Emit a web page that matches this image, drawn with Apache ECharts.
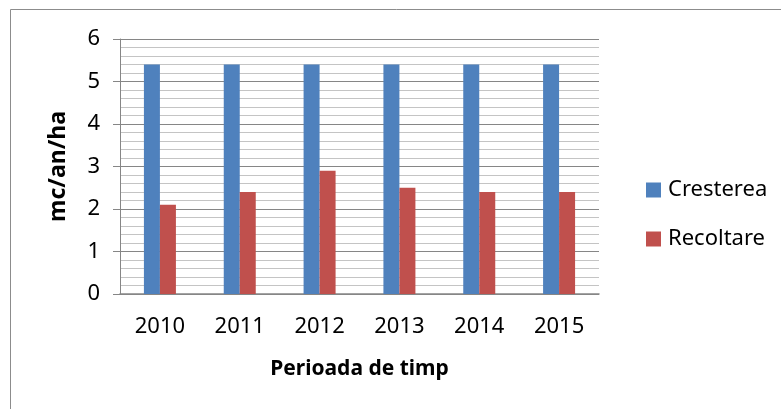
<!DOCTYPE html>
<html>
<head>
<meta charset="utf-8">
<script src="https://cdn.jsdelivr.net/npm/echarts@6/dist/echarts.min.js"></script>
<style>
html,body{margin:0;padding:0;background:#fff;}
#chart{width:781px;height:409px;}
</style>
</head>
<body>
<div id="chart"></div>
<script>
var categories = ['2010', '2011', '2012', '2013', '2014', '2015'];
var cresterea = [5.4, 5.4, 5.4, 5.4, 5.4, 5.4];
var recoltare = [2.1, 2.4, 2.9, 2.5, 2.4, 2.4];
var seriesNames = ['Cresterea', 'Recoltare'];
var xTitle = 'Perioada de timp';
var yTitle = 'mc/an/ha';

var FONT = '"Noto Sans", sans-serif';
var chart = echarts.init(document.getElementById('chart'), null, {renderer: 'canvas'});
chart.setOption({
  animation: false,
  backgroundColor: '#ffffff',
  textStyle: {fontFamily: FONT},
  graphic: [{
    type: 'rect',
    shape: {x: 10.5, y: 9.5, width: 820, height: 460},
    style: {fill: 'none', stroke: '#8c8c8c', lineWidth: 1},
    silent: true, z: -1
  }],
  grid: {left: 120, right: 182, top: 39, bottom: 115},
  legend: {
    orient: 'vertical',
    left: 641,
    top: 174,
    itemWidth: 15,
    itemHeight: 15,
    itemGap: 27,
    icon: 'rect',
    textStyle: {fontFamily: FONT, fontSize: 22, color: '#000', padding: [0, 0, 0, 2]},
    data: seriesNames
  },
  xAxis: {
    type: 'category',
    data: categories,
    name: xTitle,
    nameLocation: 'middle',
    nameGap: 65,
    nameMoveOverlap: false,
    nameTextStyle: {fontFamily: FONT, fontSize: 21, fontWeight: 'bold', color: '#000'},
    axisLine: {lineStyle: {color: '#868686', width: 1.5}},
    axisTick: {show: false},
    axisLabel: {fontFamily: FONT, fontSize: 22, color: '#000', margin: 22}
  },
  yAxis: {
    type: 'value',
    min: 0, max: 6, interval: 1,
    name: yTitle,
    nameLocation: 'middle',
    nameGap: 50,
    nameMoveOverlap: false,
    nameTextStyle: {fontFamily: FONT, fontSize: 23, fontWeight: 'bold', color: '#000'},
    axisLine: {show: true, lineStyle: {color: '#868686', width: 1}},
    axisTick: {show: true, inside: false, length: 7, lineStyle: {color: '#868686'}},
    axisLabel: {fontFamily: FONT, fontSize: 22, color: '#000', margin: 20},
    splitLine: {show: true, lineStyle: {color: '#868686', width: 1}},
    minorTick: {show: false, splitNumber: 5},
    minorSplitLine: {show: true, lineStyle: {color: '#c4c4c4', width: 1}}
  },
  series: [
    {
      name: seriesNames[0], type: 'bar', data: cresterea,
      barWidth: 16, barGap: '0%',
      itemStyle: {color: '#4F81BD'}
    },
    {
      name: seriesNames[1], type: 'bar', data: recoltare,
      barWidth: 16, barGap: '0%',
      itemStyle: {color: '#C0504D'}
    }
  ]
});
</script>
</body>
</html>
